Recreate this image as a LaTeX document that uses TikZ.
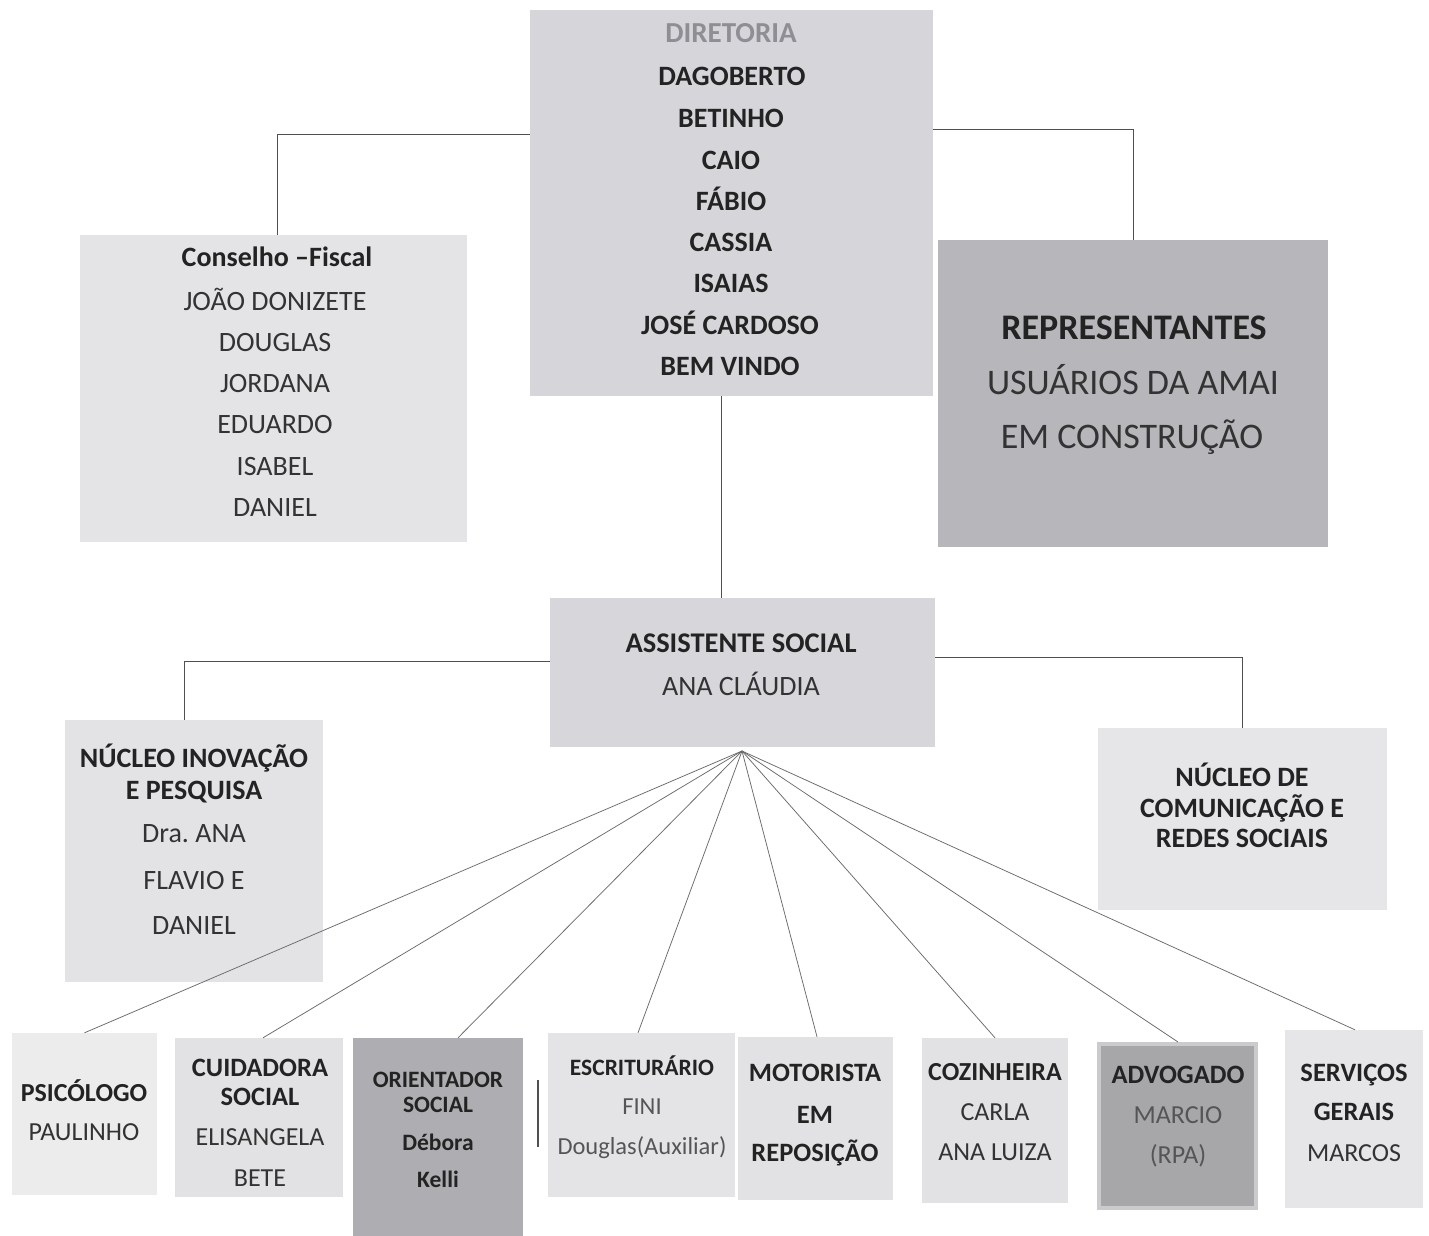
\documentclass[tikz,border=0pt]{standalone}
\usepackage{fontspec}
\setmainfont{Carlito}
\frenchspacing
\definecolor{ink}{HTML}{232323}
\definecolor{inkr}{HTML}{333333}
\definecolor{inkg}{HTML}{555558}
\definecolor{dirg}{HTML}{8E8E94}
\definecolor{lnk}{HTML}{505050}
\definecolor{cDir}{HTML}{D6D6DA}
\definecolor{cCons}{HTML}{E4E4E6}
\definecolor{cRep}{HTML}{B7B7BB}
\definecolor{cAsst}{HTML}{D7D7DB}
\definecolor{cInov}{HTML}{E3E3E5}
\definecolor{cCom}{HTML}{E6E6E8}
\definecolor{cPsi}{HTML}{ECECEC}
\definecolor{cLight}{HTML}{E2E2E4}
\definecolor{cOri}{HTML}{AEAEB2}
\definecolor{cAdv}{HTML}{A7A7AA}
\definecolor{cAdvB}{HTML}{CBCBCD}
\tikzset{
  box/.style={rectangle, inner sep=0pt, draw=none},
  bt/.style={font=\bfseries, text=ink},
  rt/.style={text=inkr},
  gt/.style={text=inkg},
  link/.style={draw=lnk, line width=0.8pt},
  fan/.style={draw=lnk!85, line width=0.75pt},
}
% name, cx, cy, w, h, colour
\newcommand\BX[6]{\node[box, fill=#6, minimum width=#4pt, minimum height=#5pt] (#1) at (#2,#3) {};}
% name, x, y(cap centre), size, options, text
\newcommand\TL[6]{\node[anchor=base, inner sep=0pt, #5] (#1) at (#2,{#3+0.322*#4}) {\fontsize{#4}{#4}\selectfont #6};}
\begin{document}
\begin{tikzpicture}[x=1pt,y=-1pt]
\useasboundingbox (0,0) rectangle (1429,1236);
\fill[white] (0,0) rectangle (1429,1236);

% ---------- boxes ----------
\BX{dir}{731.5}{203}{403}{386}{cDir}
\BX{cons}{273.5}{388.5}{387}{307}{cCons}
\BX{rep}{1133}{393.5}{390}{307}{cRep}
\BX{asst}{742.5}{672.5}{385}{149}{cAsst}
\BX{inov}{194}{851}{258}{262}{cInov}
\BX{com}{1242.5}{819}{289}{182}{cCom}
\BX{psi}{84.5}{1114}{145}{162}{cPsi}
\BX{cui}{259}{1117.5}{168}{159}{cLight}
\BX{ori}{438}{1137}{170}{198}{cOri}
\BX{esc}{641.5}{1115}{187}{164}{cCons}
\BX{mot}{815.5}{1118.5}{155}{163}{cLight}
\BX{coz}{995}{1120.5}{146}{165}{cLight}
\node[box, fill=cAdv, draw=cAdvB, line width=4pt, minimum width=157pt, minimum height=164pt] (adv) at (1177.5,1126) {};
\BX{ser}{1354}{1119}{138}{178}{cCom}

% ---------- tree connectors ----------
\coordinate (vx) at (721,0);
\draw[link] ([yshift=-125pt]dir.north west) -| ([xshift=4pt]cons.north);
\draw[link] ([yshift=-120pt]dir.north east) -| (rep.north);
\draw[link] (dir.south -| vx) -- (asst.north -| vx);
\draw[link] ([yshift=11.5pt]asst.west) -| ([xshift=-10pt]inov.north);
\draw[link] ([yshift=15.5pt]asst.east) -| (com.north);

% ---------- texts ----------
\TL{d0}{731}{33}{29}{font=\bfseries, text=dirg}{DIRETORIA}
\TL{d1}{732}{76}{28}{bt}{DAGOBERTO}
\TL{d2}{731}{118}{28}{bt}{BETINHO}
\TL{d3}{731}{160}{28}{bt}{CAIO}
\TL{d4}{731}{201}{28}{bt}{FÁBIO}
\TL{d5}{731}{242}{28}{bt}{CASSIA}
\TL{d6}{731}{283}{28}{bt}{ISAIAS}
\TL{d7}{730}{325}{28}{bt}{JOSÉ CARDOSO}
\TL{d8}{730}{366}{28}{bt}{BEM VINDO}

\TL{c0}{277}{257}{28}{bt}{Conselho –Fiscal}
\TL{c1}{275}{301}{28}{rt}{JOÃO DONIZETE}
\TL{c2}{275}{342}{28}{rt}{DOUGLAS}
\TL{c3}{275}{383}{28}{rt}{JORDANA}
\TL{c4}{275}{424}{28}{rt}{EDUARDO}
\TL{c5}{275}{466}{28}{rt}{ISABEL}
\TL{c6}{275}{507}{28}{rt}{DANIEL}

\TL{r0}{1134}{328}{36}{bt}{REPRESENTANTES}
\TL{r1}{1133}{383}{36}{rt}{USUÁRIOS DA AMAI}
\TL{r2}{1132}{437}{36}{rt}{EM CONSTRUÇÃO}

\TL{a0}{741}{643}{28.5}{bt}{ASSISTENTE SOCIAL}
\TL{a1}{741}{686}{28}{rt}{ANA CLÁUDIA}

\TL{i0}{194}{758}{28}{bt}{NÚCLEO INOVAÇÃO}
\TL{i1}{194}{790}{28}{bt}{E PESQUISA}
\TL{i2}{194}{833}{28}{rt}{Dra. ANA}
\TL{i3}{194}{880}{28}{rt}{FLAVIO E}
\TL{i4}{194}{925}{28}{rt}{DANIEL}

\TL{m0}{1242}{777}{28}{bt}{NÚCLEO DE}
\TL{m1}{1242}{808}{28}{bt}{COMUNICAÇÃO E}
\TL{m2}{1242}{838}{28}{bt}{REDES SOCIAIS}

\TL{p0}{84}{1093}{26}{bt}{PSICÓLOGO}
\TL{p1}{84}{1132}{26}{rt}{PAULINHO}

\TL{u0}{260}{1068}{26.5}{bt}{CUIDADORA}
\TL{u1}{260}{1097}{26.5}{bt}{SOCIAL}
\TL{u2}{260}{1137}{26}{rt}{ELISANGELA}
\TL{u3}{260}{1178}{26}{rt}{BETE}

\TL{o0}{438}{1080}{23.5}{bt}{ORIENTADOR}
\TL{o1}{438}{1105}{23.5}{bt}{SOCIAL}
\TL{o2}{438}{1143}{23.5}{bt}{Débora}
\TL{o3}{438}{1180}{23.5}{bt}{Kelli}

\TL{e0}{642}{1068}{23.5}{bt}{ESCRITURÁRIO}
\TL{e1}{642}{1107}{24.5}{gt}{FINI}
\TL{e2}{642}{1147}{24.5}{gt}{Douglas(Auxiliar)}

\TL{t0}{815}{1073}{26.5}{bt}{MOTORISTA}
\TL{t1}{815}{1115}{26.5}{bt}{EM}
\TL{t2}{815}{1153}{26.5}{bt}{REPOSIÇÃO}

\TL{z0}{995}{1072}{26}{bt}{COZINHEIRA}
\TL{z1}{995}{1112}{26}{rt}{CARLA}
\TL{z2}{995}{1152}{26}{rt}{ANA LUIZA}

\TL{v0}{1178}{1075}{26.5}{bt}{ADVOGADO}
\TL{v1}{1178}{1115}{26}{gt}{MARCIO}
\TL{v2}{1178}{1155}{26}{gt}{(RPA)}

\TL{s0}{1354}{1073}{26.5}{bt}{SERVIÇOS}
\TL{s1}{1354}{1112}{26.5}{bt}{GERAIS}
\TL{s2}{1354}{1153}{26}{rt}{MARCOS}

% ---------- fan from the social worker ----------
\coordinate (apex) at (742,751);
\draw[fan] (apex) -- (psi.north);
\draw[fan] (apex) -- ([xshift=4pt]cui.north);
\draw[fan] (apex) -- ([xshift=20pt]ori.north);
\draw[fan] (apex) -- ([xshift=-3.5pt]esc.north);
\draw[fan] (apex) -- ([xshift=1.5pt]mot.north);
\draw[fan] (apex) -- (coz.north);
\draw[fan] (apex) -- ([xshift=0.5pt]adv.north);
\draw[fan] (apex) -- ([xshift=1pt]ser.north);

% stray short bar between the boxes
\coordinate (bar1) at (538,1080);
\coordinate (bar2) at (538,1147);
\draw[draw=lnk, line width=1.6pt] (bar1) -- (bar2);
\end{tikzpicture}
\end{document}
